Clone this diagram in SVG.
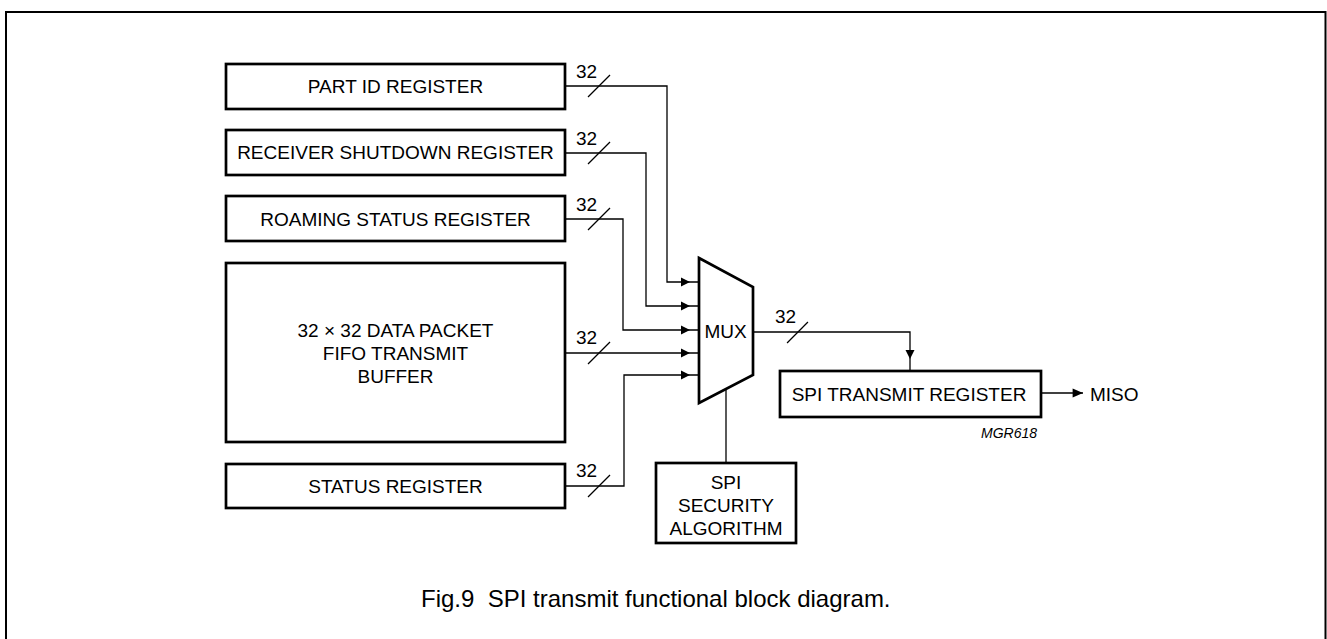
<svg xmlns="http://www.w3.org/2000/svg" width="1327" height="639" viewBox="0 0 1327 639">
<style>
  text { font-family: "Liberation Sans", Arial, sans-serif; font-size: 19px; fill: #000; }
  .c { text-anchor: middle; }
  .box { fill: #fff; stroke: #000; stroke-width: 2.7; }
  .wire { fill: none; stroke: #000; stroke-width: 1.3; }
  .frame { fill: none; stroke: #000; stroke-width: 2; }
  .cap { font-size: 24px; white-space: pre; }
  .ref { font-size: 14px; font-style: italic; }
</style>
<defs>
  <path id="ah" d="M0,0 L-9,-4.5 L-9,4.5 Z" fill="#000"/>
  <path id="sl" d="M-11,11 L11,-11" fill="none" stroke="#000" stroke-width="1.3"/>
</defs>
<rect width="1327" height="639" fill="#fff"/>
<path class="frame" d="M6,645 V12 H1325.5 V645"/>

<g id="part-id">
  <rect class="box" x="226" y="64" width="339" height="45"/>
  <text class="c" x="395.5" y="93.3">PART ID REGISTER</text>
</g>
<g id="receiver-shutdown">
  <rect class="box" x="226" y="130" width="339" height="45"/>
  <text class="c" x="395.5" y="159.3">RECEIVER SHUTDOWN REGISTER</text>
</g>
<g id="roaming-status">
  <rect class="box" x="226" y="196" width="339" height="45"/>
  <text class="c" x="395.5" y="225.5">ROAMING STATUS REGISTER</text>
</g>
<g id="fifo">
  <rect class="box" x="226" y="263" width="339" height="179"/>
  <text class="c" x="395.5" y="337">32 × 32 DATA PACKET</text>
  <text class="c" x="395.5" y="360">FIFO TRANSMIT</text>
  <text class="c" x="395.5" y="383">BUFFER</text>
</g>
<g id="status">
  <rect class="box" x="226" y="464" width="339" height="44"/>
  <text class="c" x="395.5" y="493">STATUS REGISTER</text>
</g>
<g id="mux">
  <path class="box" d="M699,258 L753,287 L753,375 L699,403 Z"/>
  <text class="c" x="725.5" y="337.5">MUX</text>
</g>
<g id="spi-transmit">
  <rect class="box" x="780" y="371" width="261" height="46"/>
  <text class="c" x="909" y="400.8">SPI TRANSMIT REGISTER</text>
</g>
<g id="security">
  <rect class="box" x="656" y="463" width="140" height="80"/>
  <text class="c" x="726" y="488.5">SPI</text>
  <text class="c" x="726" y="511.5">SECURITY</text>
  <text class="c" x="726" y="534.5">ALGORITHM</text>
</g>
<g id="miso">
  <text x="1090" y="401">MISO</text>
</g>
<g id="ref">
  <text class="ref" x="981" y="438">MGR618</text>
</g>

<g id="connectors">
  <path class="wire" d="M565,86 H667 V282 H699"/>
  <path class="wire" d="M565,153 H646 V306 H699"/>
  <path class="wire" d="M565,219 H623 V330 H699"/>
  <path class="wire" d="M565,353 H699"/>
  <path class="wire" d="M565,486 H624 V375 H699"/>
  <path class="wire" d="M753,332 H910 V371"/>
  <path class="wire" d="M1041,393 H1083"/>
  <path class="wire" d="M726,389 V463"/>
  <use href="#ah" transform="translate(690,282)"/>
  <use href="#ah" transform="translate(690,306)"/>
  <use href="#ah" transform="translate(690,330)"/>
  <use href="#ah" transform="translate(690,353)"/>
  <use href="#ah" transform="translate(690,375)"/>
  <use href="#ah" transform="translate(910,359) rotate(90)"/>
  <use href="#ah" transform="translate(1083,393) scale(1.15,1)"/>
  <use href="#sl" transform="translate(599,86)"/>
  <use href="#sl" transform="translate(599,153)"/>
  <use href="#sl" transform="translate(599,219)"/>
  <use href="#sl" transform="translate(599,353)"/>
  <use href="#sl" transform="translate(599,486)"/>
  <use href="#sl" transform="translate(797.5,332.5) scale(0.95)"/>
  <text x="576" y="77.5">32</text>
  <text x="576" y="144.5">32</text>
  <text x="576" y="210.5">32</text>
  <text x="576" y="344">32</text>
  <text x="576" y="477">32</text>
  <text x="775" y="323">32</text>
</g>

<text class="cap" x="421" y="607" xml:space="preserve">Fig.9  SPI transmit functional block diagram.</text>
</svg>
